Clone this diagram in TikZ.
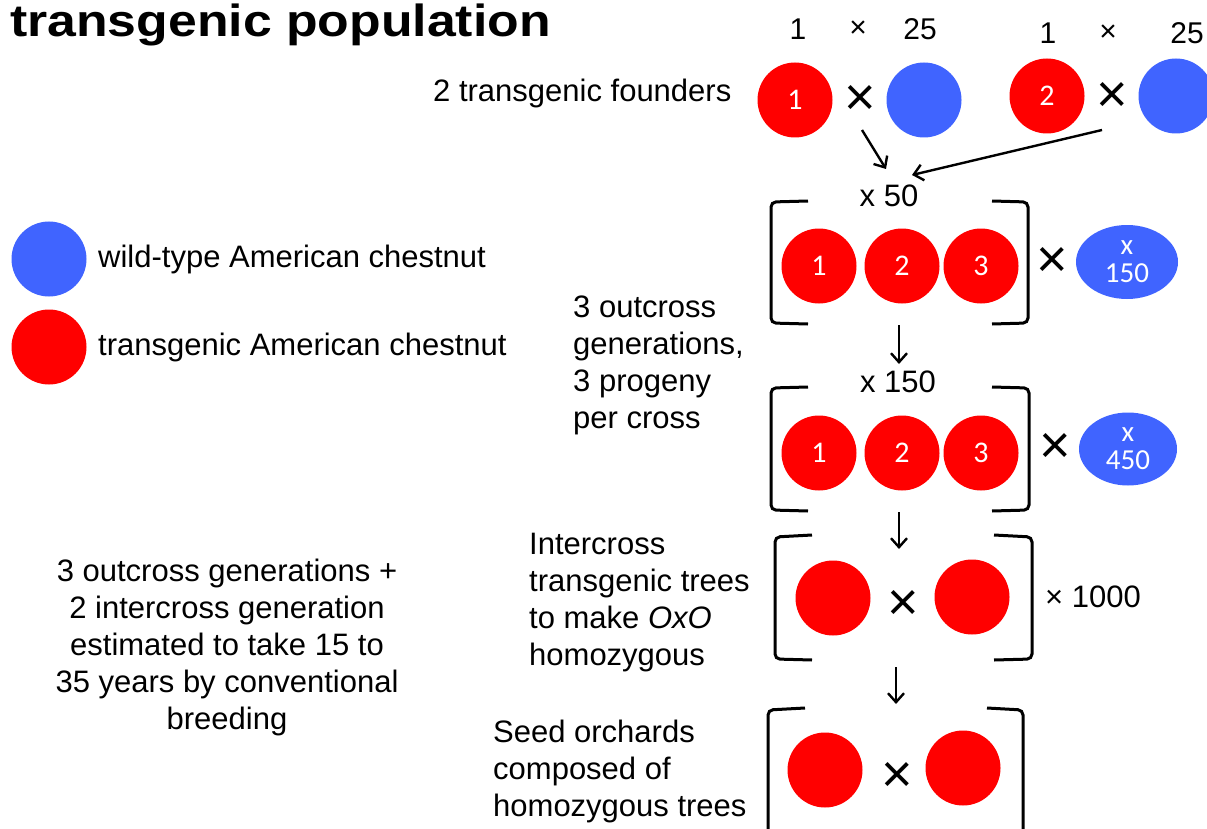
\documentclass[tikz,border=0pt]{standalone}
\usepackage{fontspec}
\setmainfont{Liberation Sans}
\newfontfamily\titlefont[FakeStretch=1.15]{Liberation Sans}
\newfontfamily\calfont{Carlito}
\usetikzlibrary{arrows.meta,shapes.geometric}
\definecolor{tred}{RGB}{255,0,0}
\definecolor{tblue}{RGB}{64,100,255}
\begin{document}
\begin{tikzpicture}[x=1pt,y=-1pt,
  redc/.style={circle,fill=tred,minimum size=75pt,inner sep=0pt,text=white,font=\calfont\fontsize{30}{30}\selectfont},
  bluec/.style={circle,fill=tblue,minimum size=75pt,inner sep=0pt},
  bluee/.style={ellipse,fill=tblue,inner sep=0pt,text=white,align=center,font=\calfont\fontsize{29}{29}\selectfont},
  txt/.style={inner sep=0pt,font=\fontsize{31}{37}\selectfont},
  smx/.style={inner sep=0pt,font=\fontsize{30}{30}\selectfont},
  bigx/.style={inner sep=0pt,font=\fontsize{54}{54}\selectfont},
  brk/.style={line width=3pt,rounded corners=5pt},
  arr/.style={line width=2.4pt,-{Straight Barb[length=9pt,width=16pt]}}
]
\path[use as bounding box] (0,0) rectangle (1207,829);
\clip (0,0) rectangle (1207,829);
\fill[white] (0,0) rectangle (1207,829);

% title
\node[inner sep=0pt,anchor=base west,font=\titlefont\bfseries\fontsize{45}{45}\selectfont] (title) at (10,37) {transgenic population};

% legend
\node[bluec] (legb) at (49,259) {};
\node[txt,anchor=base west] (legbt) at (98,267) {wild-type American chestnut};
\node[redc] (legr) at (49,347) {};
\node[txt,anchor=base west] (legrt) at (98,355) {transgenic American chestnut};

% founders
\node[txt,anchor=base west] (founders) at (433,102) {2 transgenic founders};
\node[smx,anchor=base] (n1a) at (798,40) {1};
\node[smx] (xa) at (858,29) {×};
\node[smx,anchor=base] (n25a) at (920,40) {25};
\node[smx,anchor=base] (n1b) at (1048,44) {1};
\node[smx] (xb) at (1108,33) {×};
\node[smx,anchor=base] (n25b) at (1187,44) {25};

\node[redc] (f1) at (795,100) {1};
\node[bigx] (fx1) at (860,100) {×};
\node[bluec] (w1) at (924,100) {};
\node[redc] (f2) at (1047,96) {2};
\node[bigx] (fx2) at (1112,97) {×};
\node[bluec] (w2) at (1176,96) {};

\coordinate (a1s) at (862,130);
\coordinate (a1e) at (886,169);
\coordinate (a2s) at (1102,130);
\coordinate (a2e) at (912,175);
\draw[arr] (a1s) -- (a1e);
\draw[arr] (a2s) -- (a2e);

% generation 1
\node[txt,anchor=base] (m50) at (889,207) {x 50};
\draw[brk] (808,201) -- (771,202) -- (771,323) -- (808,324);
\draw[brk] (992,201) -- (1028,202) -- (1028,323) -- (992,324);
\node[redc] (g1a) at (819,266) {1};
\node[redc] (g1b) at (902,266) {2};
\node[redc] (g1c) at (981,266) {3};
\node[bigx] (g1x) at (1052,262) {×};
\node[bluee,minimum width=102pt,minimum height=74pt] (e1) at (1127,262) {x\\[-1pt]150};

\node[txt,anchor=base west,align=left] (outc) at (573,428) {3 outcross\\generations,\\3 progeny\\per cross};

\coordinate (d1s) at (899,325);
\coordinate (d1e) at (899,364);
\draw[arr] (d1s) -- (d1e);

% generation 2
\node[txt,anchor=base] (m150) at (898,392) {x 150};
\draw[brk] (808,387) -- (771,388) -- (771,510) -- (808,511);
\draw[brk] (992,387) -- (1029,388) -- (1029,510) -- (992,511);
\node[redc] (g2a) at (819,453) {1};
\node[redc] (g2b) at (902,453) {2};
\node[redc] (g2c) at (981,453) {3};
\node[bigx] (g2x) at (1055,448) {×};
\node[bluee,minimum width=98pt,minimum height=73pt] (e2) at (1128,449) {x\\[-1pt]450};

\coordinate (d2s) at (899,512);
\coordinate (d2e) at (899,549);
\draw[arr] (d2s) -- (d2e);

% intercross
\draw[brk] (812,535) -- (775,537) -- (775,659) -- (812,660);
\draw[brk] (994,535) -- (1032,537) -- (1032,659) -- (994,660);
\node[redc] (i1) at (833,598) {};
\node[bigx] (ix) at (903,605) {×};
\node[redc] (i2) at (972,597) {};
\node[txt,anchor=base west] (k1000) at (1045,607) {× 1000};
\node[txt,anchor=base west,align=left] (inter) at (529,665) {Intercross\\transgenic trees\\to make \textit{OxO}\\homozygous};

\coordinate (d3s) at (896,667);
\coordinate (d3e) at (896,704);
\draw[arr] (d3s) -- (d3e);

% seed orchards
\draw[brk] (805,708) -- (768,710) -- (768,850);
\draw[brk] (987,708) -- (1023,710) -- (1023,850);
\node[redc] (s1) at (825,770) {};
\node[bigx] (sx) at (897,777) {×};
\node[redc] (s2) at (963,768) {};
\node[txt,anchor=base west,align=left] (seed) at (493,816) {Seed orchards\\composed of\\homozygous trees};

% summary
\node[txt,anchor=base,align=center] (summ) at (227,729) {3 outcross generations +\\2 intercross generation\\estimated to take 15 to\\35 years by conventional\\breeding};
\end{tikzpicture}
\end{document}
